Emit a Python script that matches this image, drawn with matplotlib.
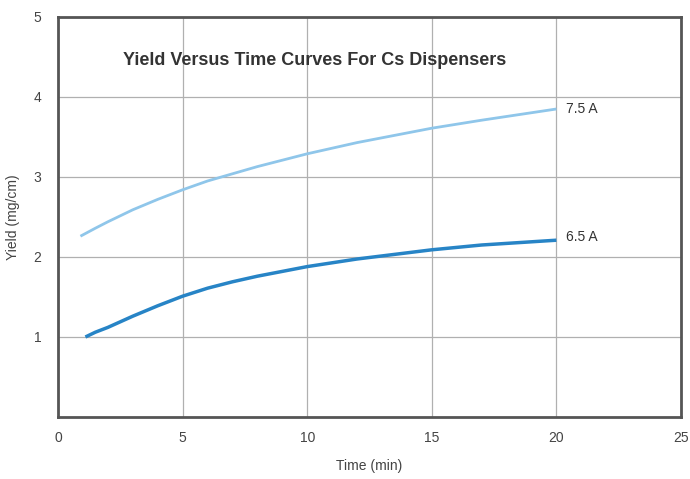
import matplotlib.pyplot as plt

plt.rcParams['font.family'] = ['Liberation Sans', 'DejaVu Sans']

time_75 = [0.9, 1.5, 2, 3, 4, 5, 6, 7, 8, 10, 12, 15, 17, 20]
yield_75 = [2.26, 2.36, 2.44, 2.59, 2.72, 2.84, 2.95, 3.04, 3.13, 3.29, 3.43, 3.61, 3.71, 3.85]

time_65 = [1.1, 1.5, 2, 3, 4, 5, 6, 7, 8, 10, 12, 15, 17, 20]
yield_65 = [1.0, 1.06, 1.12, 1.26, 1.39, 1.51, 1.61, 1.69, 1.76, 1.88, 1.975, 2.09, 2.15, 2.21]

labels = ["7.5 A", "6.5 A"]

fig = plt.figure(figsize=(6.9, 4.79), dpi=100)
ax = fig.add_axes([58 / 690, 1 - 417 / 479, 623 / 690, 400 / 479])

ax.plot(time_75, yield_75, color="#8fc6ea", lw=2.0, solid_capstyle="butt")
ax.plot(time_65, yield_65, color="#2784c6", lw=2.5, solid_capstyle="butt")

ax.text(20.4, yield_75[-1], labels[0], fontsize=10, color="#333333", va="center")
ax.text(20.4, yield_65[-1] + 0.04, labels[1], fontsize=10, color="#333333", va="center")

ax.set_xlim(0, 25)
ax.set_ylim(0, 5)
ax.set_xticks([0, 5, 10, 15, 20, 25])
ax.set_yticks([1, 2, 3, 4, 5])
ax.tick_params(length=0, labelsize=10, labelcolor="#444444")
ax.tick_params(axis="x", pad=10)
ax.tick_params(axis="y", pad=12)
ax.grid(True, color="#b0b0b0", lw=0.9)
ax.set_axisbelow(True)
for s in ax.spines.values():
    s.set_color("#555555")
    s.set_linewidth(2)

ax.set_xlabel("Time (min)", fontsize=10, color="#444444", va="center")
ax.xaxis.set_label_coords(0.5, -0.1225)
ax.set_ylabel("Yield (mg/cm)", fontsize=10, color="#444444", va="center")
ax.yaxis.set_label_coords(-0.072, 0.5)

ax.text(10.3, 4.46, "Yield Versus Time Curves For Cs Dispensers",
        fontsize=13, fontweight="bold", color="#333333", ha="center", va="center")

fig.savefig("out.png", dpi=100)
